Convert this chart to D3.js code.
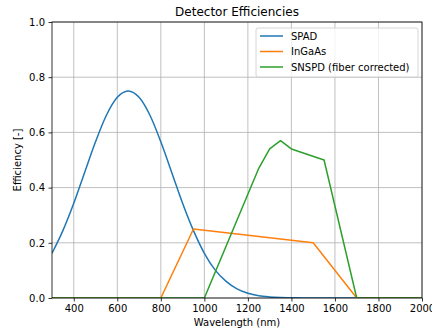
<!DOCTYPE html>
<html>
<head>
<meta charset="utf-8">
<script src="https://cdn.jsdelivr.net/npm/d3@7"></script>
<style>
  body { margin: 0; background: #fff; }
  text { font-family: "DejaVu Sans", sans-serif; fill: #000; }
</style>
</head>
<body>
<div id="chart"></div>
<script>
// values
var spadWl = [300, 350, 400, 450, 500, 550, 600, 650, 700, 750, 800, 850, 900, 950, 1000,
              1050, 1100, 1150, 1200, 1250, 1300, 1350, 1400, 1450, 1500, 2000];
var spadEff = [0.162, 0.244, 0.343, 0.455, 0.566, 0.662, 0.727, 0.75, 0.727, 0.662, 0.566, 0.455, 0.343, 0.244, 0.162,
               0.101, 0.060, 0.033, 0.017, 0.008, 0.004, 0.002, 0.001, 0, 0, 0];
var ingaasWl = [300, 800, 950, 1500, 1700, 2000];
var ingaasEff = [0, 0, 0.25, 0.2, 0, 0];
var snspdWl = [300, 1000, 1250, 1300, 1350, 1400, 1550, 1700, 2000];
var snspdEff = [0, 0, 0.47, 0.54, 0.57, 0.54, 0.5, 0, 0];
var seriesNames = ["SPAD", "InGaAs", "SNSPD (fiber corrected)"];
var xTicks = [400, 600, 800, 1000, 1200, 1400, 1600, 1800, 2000];
var yTicks = [0, 0.2, 0.4, 0.6, 0.8, 1.0];

var W = 432, H = 333,
    margin = {left: 52, right: 10, top: 22, bottom: 35},
    colors = ["#1f77b4", "#ff7f0e", "#2ca02c"];

var svg = d3.select("#chart").append("svg")
    .attr("width", W)
    .attr("height", H);

var x = d3.scaleLinear().domain([300, 2000]).range([margin.left, W - margin.right]);
var y = d3.scaleLinear().domain([0, 1]).range([H - margin.bottom, margin.top]);

svg.append("defs").append("clipPath").attr("id", "clip")
    .append("rect")
    .attr("x", margin.left).attr("y", margin.top)
    .attr("width", W - margin.left - margin.right)
    .attr("height", H - margin.top - margin.bottom);

// grid
svg.append("g").selectAll("line").data(xTicks).enter().append("line")
    .attr("x1", function(d){return x(d);}).attr("x2", function(d){return x(d);})
    .attr("y1", y(0)).attr("y2", y(1))
    .style("stroke", "#b0b0b0").style("stroke-width", 0.8);
svg.append("g").selectAll("line").data(yTicks).enter().append("line")
    .attr("x1", x(300)).attr("x2", x(2000))
    .attr("y1", function(d){return y(d);}).attr("y2", function(d){return y(d);})
    .style("stroke", "#b0b0b0").style("stroke-width", 0.8);

// lines
var series = [
    {wl: spadWl, eff: spadEff, curve: d3.curveMonotoneX},
    {wl: ingaasWl, eff: ingaasEff, curve: d3.curveLinear},
    {wl: snspdWl, eff: snspdEff, curve: d3.curveLinear}
];
var plot = svg.append("g").attr("clip-path", "url(#clip)");
series.forEach(function(s, k) {
    var pts = s.wl.map(function(w, i){return [w, s.eff[i]];});
    var line = d3.line()
        .x(function(d){return x(d[0]);})
        .y(function(d){return y(d[1]);})
        .curve(s.curve);
    plot.append("path")
        .attr("d", line(pts))
        .style("fill", "none")
        .style("stroke", colors[k])
        .style("stroke-width", 1.5)
        .style("stroke-linejoin", "round");
});

// axes
var xAxis = d3.axisBottom(x).tickValues(xTicks).tickSize(3.5).tickPadding(3.5)
    .tickFormat(d3.format("d"));
var yAxis = d3.axisLeft(y).tickValues(yTicks).tickSize(3.5).tickPadding(3.5)
    .tickFormat(d3.format(".1f"));
var gx = svg.append("g").attr("transform", "translate(0," + y(0) + ")").call(xAxis);
var gy = svg.append("g").attr("transform", "translate(" + x(300) + ",0)").call(yAxis);
[gx, gy].forEach(function(g) {
    g.select(".domain").remove();
    g.selectAll(".tick line").style("stroke", "#000").style("stroke-width", 0.8);
    g.selectAll(".tick text").style("font-size", "10px")
        .style("font-family", "DejaVu Sans, sans-serif").style("fill", "#000");
});

// frame
svg.append("rect")
    .attr("x", x(300)).attr("y", y(1))
    .attr("width", x(2000) - x(300)).attr("height", y(0) - y(1))
    .style("fill", "none").style("stroke", "#000").style("stroke-width", 0.8);

// titles
svg.append("text")
    .attr("x", (x(300) + x(2000)) / 2).attr("y", 16)
    .attr("text-anchor", "middle").style("font-size", "12px")
    .text("Detector Efficiencies");
svg.append("text")
    .attr("x", (x(300) + x(2000)) / 2).attr("y", 326)
    .attr("text-anchor", "middle").style("font-size", "10px")
    .text("Wavelength (nm)");
svg.append("text")
    .attr("transform", "translate(21," + (y(0) + y(1)) / 2 + ") rotate(-90)")
    .attr("text-anchor", "middle").style("font-size", "10px")
    .text("Efficiency [-]");

// legend
var lg = svg.append("g").attr("transform", "translate(256,28)");
lg.append("rect")
    .attr("width", 162).attr("height", 49).attr("rx", 2)
    .style("fill", "#fff").style("fill-opacity", 0.8)
    .style("stroke", "#cccccc").style("stroke-width", 0.8);
seriesNames.forEach(function(name, k) {
    var yy = 8 + k * 15.5;
    lg.append("line")
        .attr("x1", 4).attr("x2", 27).attr("y1", yy).attr("y2", yy)
        .style("stroke", colors[k]).style("stroke-width", 1.5);
    lg.append("text")
        .attr("x", 35).attr("y", yy + 3.5)
        .style("font-size", "10px")
        .text(name);
});
</script>
</body>
</html>
